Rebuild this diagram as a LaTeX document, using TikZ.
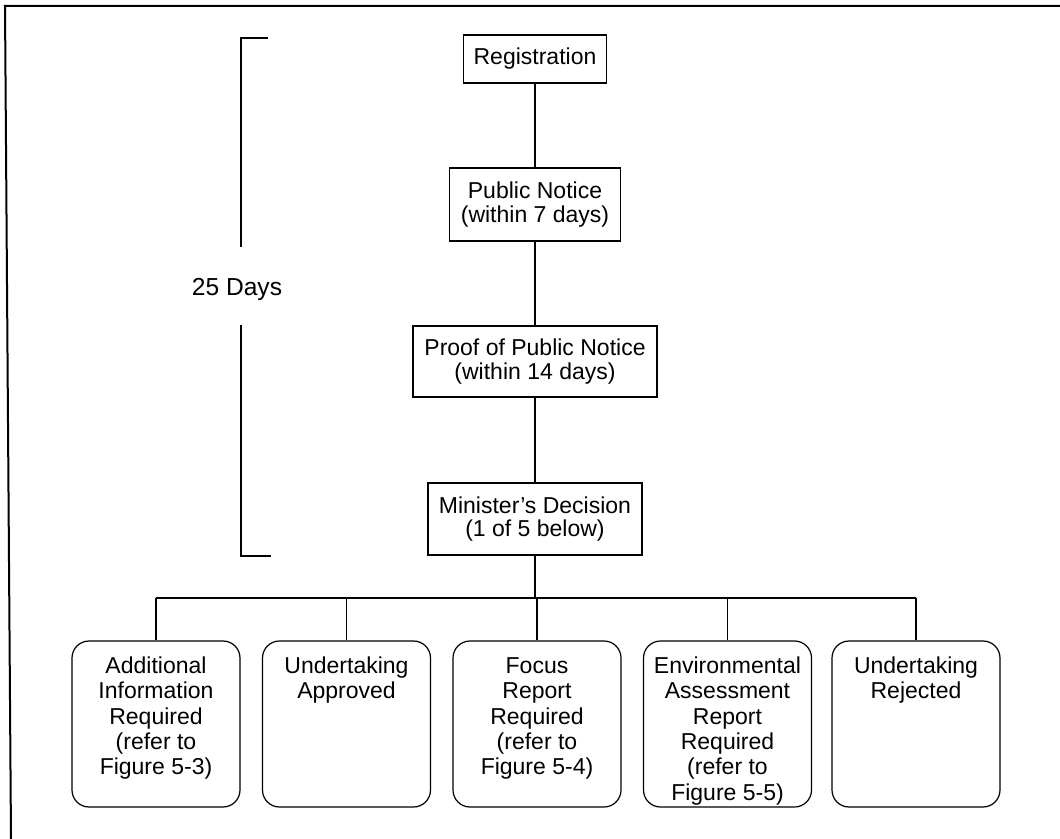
\documentclass[tikz,border=0pt]{standalone}
\usepackage{fontspec}
\setmainfont{Liberation Sans}
\begin{document}
\begin{tikzpicture}[x=0.5pt,y=-0.5pt,
  box/.style={draw,line width=0.6pt,inner sep=0pt,align=center,
    font=\fontsize{11.5}{11.6}\selectfont},
  choice/.style={draw,line width=0.6pt,rounded corners=8.5pt,inner sep=0pt,
    minimum width=84pt,minimum height=83pt,
    font=\fontsize{11.5}{12.65}\selectfont},
  conn/.style={line width=0.6pt},
  frame/.style={line width=1pt}]
\useasboundingbox (0,0) rectangle (1060,839);
% outer frame (top and left edges only)
\draw[frame] (1060,6) -- (5,6) -- (11,839);
% main chain
\node[box,minimum width=71.5pt,minimum height=24pt] (reg) at (535,59) {Registration};
\node[box,minimum width=85.5pt,minimum height=36.5pt] (pub) at (535,204.5) {Public Notice\\(within 7 days)};
\node[box,minimum width=122pt,minimum height=35.5pt] (proof) at (535,361.5) {Proof of Public Notice\\(within 14 days)};
\node[box,minimum width=107pt,minimum height=36pt] (min) at (535,519) {Minister’s Decision\\(1 of 5 below)};
\draw[conn] (reg.south) -- (pub.north);
\draw[conn] (pub.south) -- (proof.north);
\draw[conn] (proof.south) -- (min.north);
% bracket
\node[font=\fontsize{12.3}{13}\selectfont] (days) at (237,289) {25 Days};
\draw[conn] (268,38) -- (241,38) -- (241,247);
\draw[conn] (241,325) -- (241,556) -- (271,556);
% choices
\newcommand{\choicetext}[1]{\parbox[c][83pt][t]{84pt}{\centering\rule{0pt}{16.3pt}#1}}
\node[choice] (c1) at (156,724) {\choicetext{Additional\\Information\\Required\\(refer to\\Figure 5-3)}};
\node[choice] (c2) at (346.5,724) {\choicetext{Undertaking\\Approved}};
\node[choice] (c3) at (537,724) {\choicetext{Focus\\Report\\Required\\(refer to\\Figure 5-4)}};
\node[choice] (c4) at (727.5,724) {\choicetext{Environmental\\Assessment\\Report\\Required\\(refer to\\Figure 5-5)}};
\node[choice] (c5) at (916,724) {\choicetext{Undertaking\\Rejected}};
\coordinate (bus) at (535,598);
\draw[conn] (min.south) -- (bus);
\draw[conn] (c1.north |- bus) -- (c5.north |- bus);
\foreach \c in {c1,c2,c3,c4,c5} \draw[conn] (\c.north) -- (\c.north |- bus);
\end{tikzpicture}
\end{document}
